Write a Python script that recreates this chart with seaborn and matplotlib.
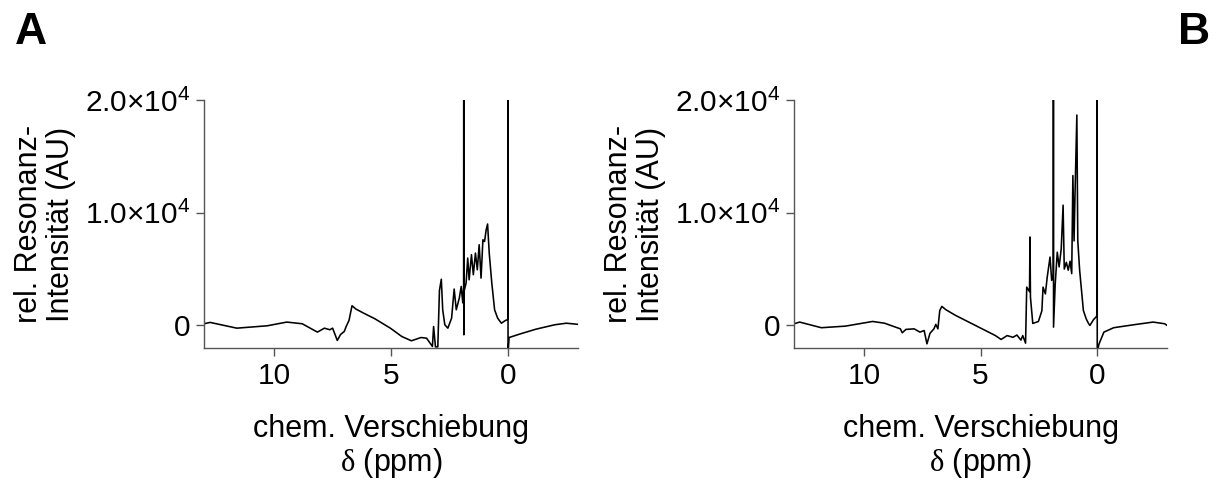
import numpy as np
import pandas as pd
import matplotlib
matplotlib.use("Agg")
import matplotlib.pyplot as plt
import seaborn as sns

# 1H-NMR spectra (chemical shift in ppm, relative intensity in AU)
shift_a = [13.0, 12.74, 11.6, 10.3, 9.46, 8.8, 8.15, 7.85, 7.62, 7.5, 7.3, 7.16,
           7.0, 6.92, 6.8, 6.67, 6.5, 6.18, 5.69, 5.03, 4.54, 4.13, 3.72, 3.48,
           3.23, 3.18, 3.1, 3.0, 2.93, 2.85, 2.79, 2.7, 2.57, 2.41, 2.3, 2.21,
           2.08, 2.0, 1.93, 1.895, 1.89, 1.885, 1.88, 1.79, 1.72, 1.66, 1.56,
           1.48, 1.39, 1.31, 1.23, 1.15, 1.07, 1.0, 0.93, 0.87, 0.8, 0.69, 0.57,
           0.44, 0.28, 0.11, 0.03, 0.005, 0.0, -0.005, -0.05, -0.54, -1.2, -2.0,
           -2.5, -3.0]
intensity_a = [150, 270, -240, -30, 300, 150, -590, -240, -380, -240, -1330, -800,
               -530, -90, 440, 1750, 1450, 1100, 590, -240, -980, -1360, -1070, -1130,
               -1860, -90, -1900, -1900, 3100, 4100, 1390, 60, -240, 650, 3230, 1390,
               2430, 3460, 2000, 3500, 30000, -830, 3000, 3760, 5980, 4050, 6280,
               4500, 6420, 4940, 7160, 4200, 7600, 7450, 8500, 9000, 6420, 3760, 1390,
               650, 200, 440, 500, 600, 30000, -2500, -1070, -740, -330, 60,
               200, 100]

shift_b = [13.0, 12.76, 11.83, 10.8, 9.63, 9.12, 8.44, 8.36, 8.2, 7.85, 7.6, 7.42,
           7.3, 7.17, 7.0, 6.92, 6.83, 6.75, 6.66, 6.49, 6.07, 5.22, 4.37, 4.12,
           3.86, 3.61, 3.44, 3.27, 3.19, 3.07, 3.02, 2.9, 2.88, 2.86, 2.76, 2.52,
           2.37, 2.32, 2.22, 2.14, 2.02, 1.95, 1.88, 1.875, 1.87, 1.8, 1.71, 1.63,
           1.54, 1.46, 1.41, 1.32, 1.24, 1.16, 1.09, 1.04, 0.99, 0.95, 0.87, 0.83,
           0.75, 0.59, 0.47, 0.37, 0.31, 0.15, 0.05, 0.005, 0.0, -0.005, -0.07,
           -0.29, -0.71, -1.56, -2.4, -2.9, -3.0]
intensity_b = [150, 300, -200, -60, 355, 200, -300, -650, -350, -300, -590, -450,
               -1630, -700, -300, 100, -300, 1330, 1690, 1400, 890, 0, -890, -1240,
               -900, -1050, -850, -1300, -900, -1570, 3400, 3000, 7850, 2500, 180, 350,
               1300, 3400, 2800, 4300, 6070, 4000, 4500, 30000, -150, 3600, 6500, 5200,
               6800, 10670, 5000, 5600, 4900, 5700, 4600, 13300, 7500, 11500, 18670, 7500,
               4900, 1330, 590, 180, 0, 530, 740, 900, 30000, -2500, -1700,
               -590, -200, 60, 300, 150, 0]

spectra = {"A": (shift_a, intensity_a), "B": (shift_b, intensity_b)}

# Axis ranges and ticks
shift_range = (13.0, -3.0)
intensity_range = (-2000, 20000)
xtick_values = [10, 5, 0]
ytick_values = [0, 10000, 20000]
ytick_labels = ["0", "1.0\u00d710$^{4}$", "2.0\u00d710$^{4}$"]

xlabel = "chem. Verschiebung\n$\\mathrm{\\delta}$ (ppm)"
ylabel = "rel. Resonanz-\nIntensit\u00e4t (AU)"

sns.set_theme(style="ticks")
plt.rcParams["font.family"] = ["Liberation Sans", "DejaVu Sans"]
plt.rcParams["mathtext.fontset"] = "custom"
plt.rcParams["mathtext.rm"] = "Liberation Serif"
plt.rcParams["mathtext.default"] = "regular"
plt.rcParams["text.color"] = "black"
plt.rcParams["axes.labelcolor"] = "black"

spine_color = "#555555"
fig = plt.figure(figsize=(12.19, 4.82), dpi=100)

axes_boxes = {"A": [0.1674, 0.278, 0.3068, 0.5145],
              "B": [0.6514, 0.278, 0.3060, 0.5145]}

for name, (xs, ys) in spectra.items():
    ax = fig.add_axes(axes_boxes[name])
    df = pd.DataFrame({"shift": xs, "intensity": ys})
    sns.lineplot(data=df, x="shift", y="intensity", sort=False, estimator=None,
                 color="black", linewidth=1.15, ax=ax)
    ax.set_xlim(*shift_range)
    ax.set_ylim(*intensity_range)
    ax.set_xticks(xtick_values)
    ax.set_xticklabels([str(v) for v in xtick_values])
    ax.set_yticks(ytick_values)
    ax.set_yticklabels(ytick_labels)
    ax.tick_params(axis="both", labelsize=21.5, length=6, width=1.0,
                   color=spine_color, labelcolor="black", pad=4)
    sns.despine(ax=ax)
    for side in ("left", "bottom"):
        ax.spines[side].set_color(spine_color)
        ax.spines[side].set_linewidth(1.0)
    ax.set_xlabel(xlabel, fontsize=22, labelpad=17, linespacing=1.1)
    ax.set_ylabel(ylabel, fontsize=22, labelpad=6, linespacing=1.1)

fig.text(0.012, 0.975, "A", fontsize=32, fontweight="bold", va="top", ha="left")
fig.text(0.993, 0.975, "B", fontsize=32, fontweight="bold", va="top", ha="right")

fig.savefig("out.png", dpi=100)
